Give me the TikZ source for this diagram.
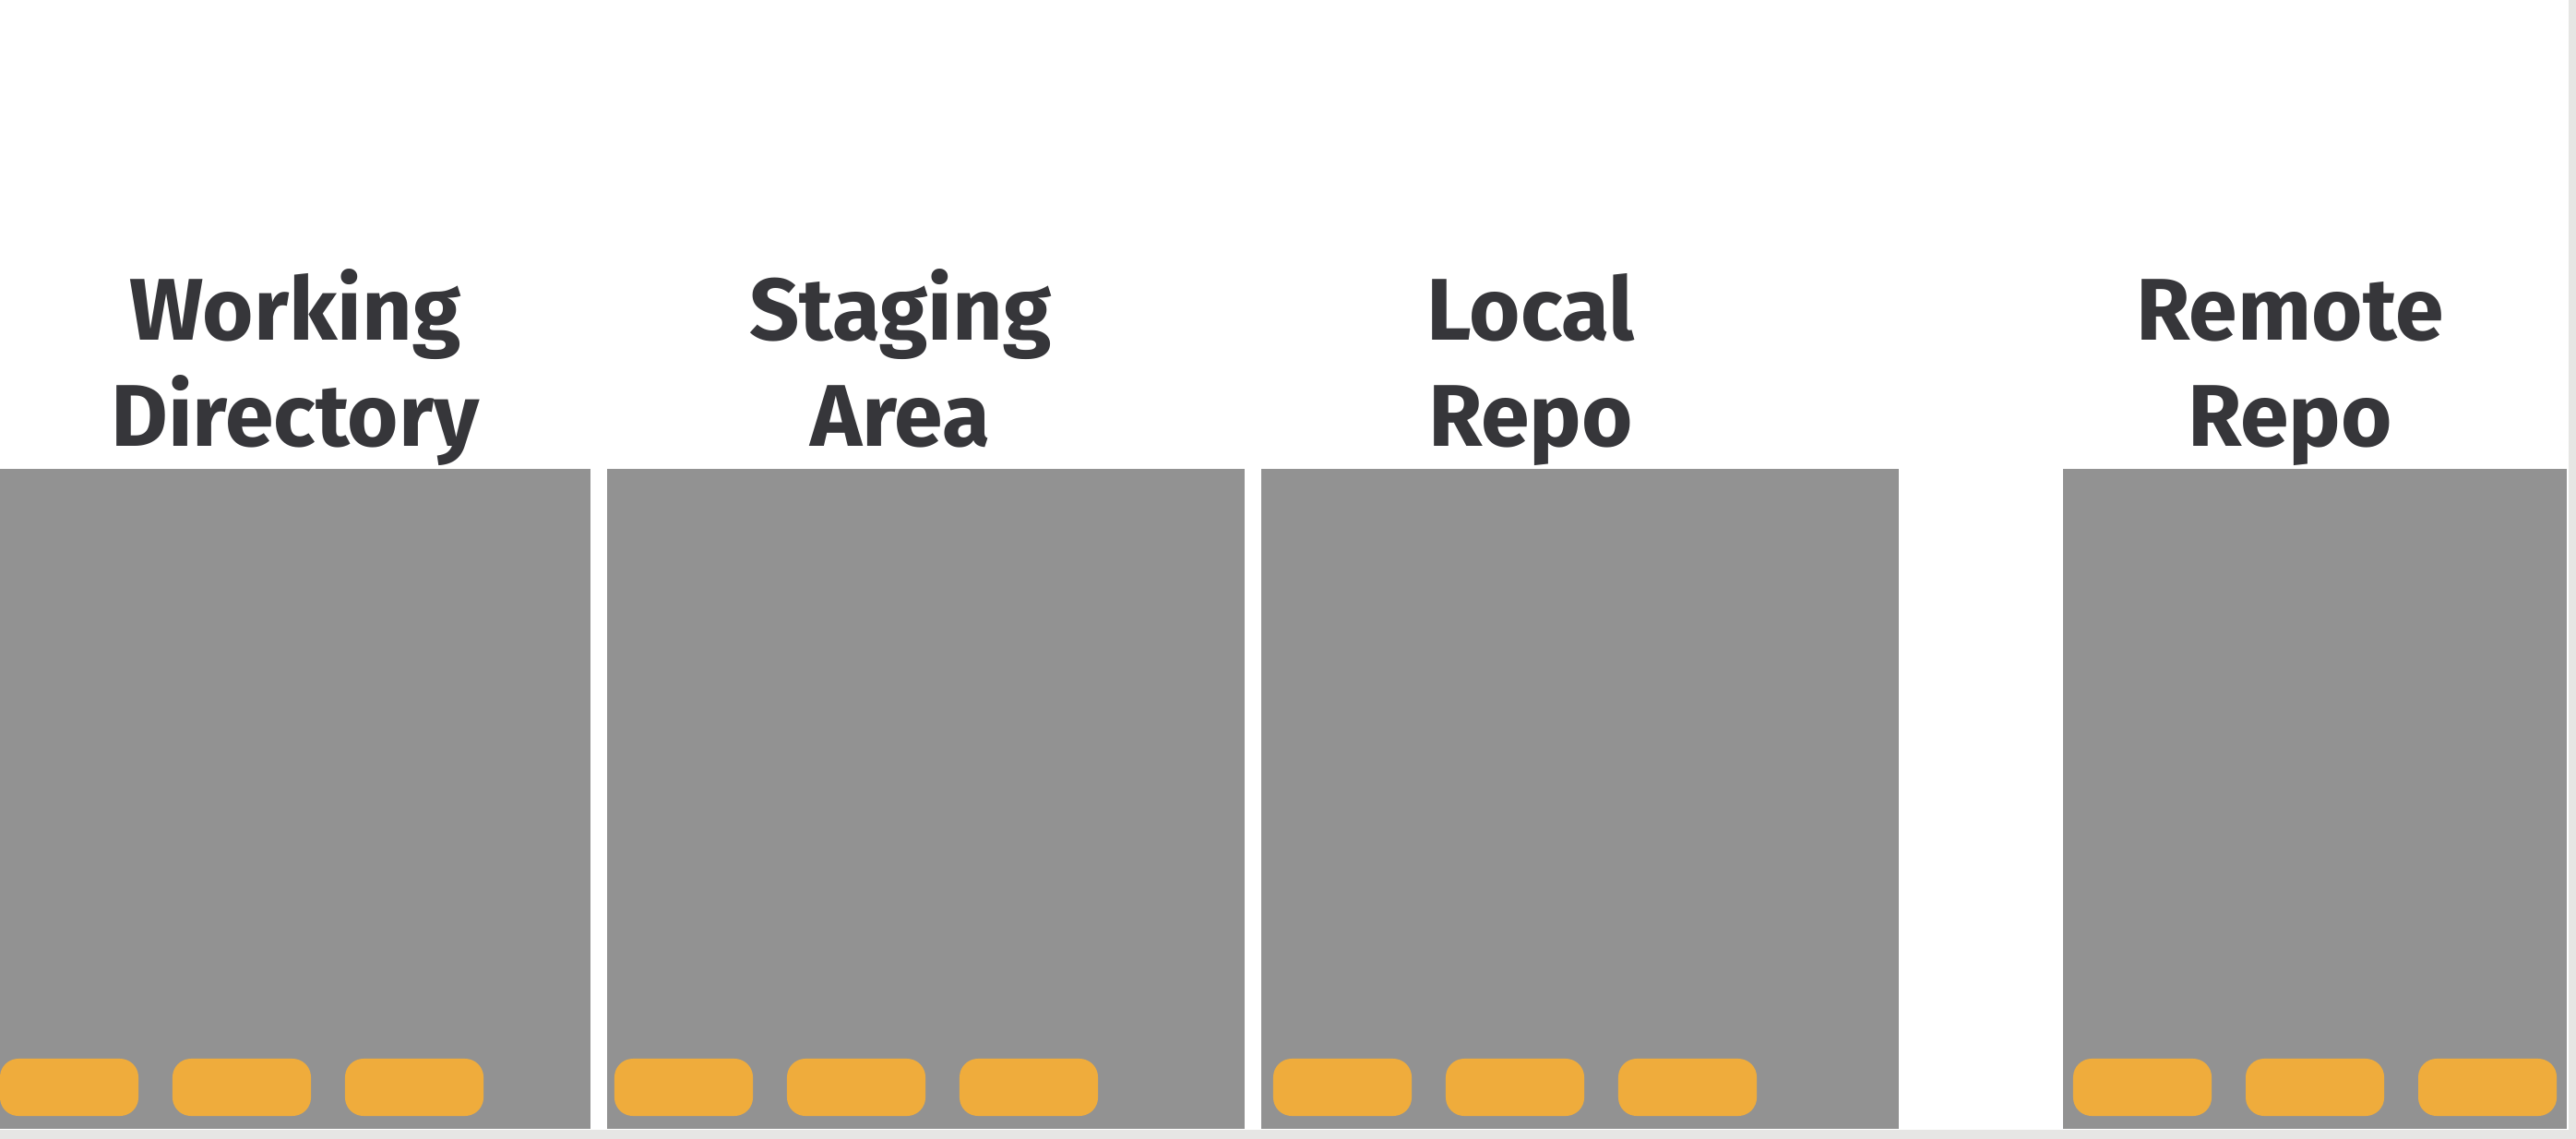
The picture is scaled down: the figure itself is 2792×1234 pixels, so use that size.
\documentclass[tikz,border=0pt]{standalone}
\usepackage{fontspec}
\usepackage{xcolor}
\usepackage{tikz}
\usetikzlibrary{positioning}
\newfontfamily\titlefont{Fira Sans}
\definecolor{panelgray}{HTML}{929292}
\definecolor{pillorange}{HTML}{EFAC3C}
\definecolor{titleink}{HTML}{36363A}
\definecolor{edgegray}{HTML}{E6E6E4}

\begin{document}
\begin{tikzpicture}[
    x=0.01cm, y=-0.01cm,
    panel/.style={rectangle, fill=panelgray, inner sep=0pt, outer sep=0pt, anchor=north west, minimum width=#1, minimum height=7.15cm},
    pill/.style={rectangle, rounded corners=0.2cm, fill=pillorange, inner sep=0pt, outer sep=0pt, minimum width=1.5cm, minimum height=0.62cm},
    title/.style={align=center, inner sep=0pt, text=titleink, font=\titlefont\bfseries\fontsize{27}{32.7}\selectfont}
  ]
  \useasboundingbox (0,0) rectangle (2792,1234);
  \fill[white] (0,0) rectangle (2792,1234);
  \fill[edgegray] (2784,0) rectangle (2792,1234);
  \fill[edgegray] (0,1224) rectangle (2792,1234);

  % Panels
  \node[panel=6.40cm] (wd) at (0,508) {};
  \node[panel=6.91cm] (sa) at (658,508) {};
  \node[panel=6.91cm] (lr) at (1367,508) {};
  \node[panel=5.46cm] (rr) at (2236,508) {};

  % Titles
  \node[title] (wd-title) at (320,403) {\strut Working\\Directory\strut};
  \node[title] (sa-title) at (976,403) {\strut Staging\\Area\strut};
  \node[title] (lr-title) at (1659,403) {\strut Local\\Repo\strut};
  \node[title] (rr-title) at (2482,403) {\strut Remote\\Repo\strut};

  % Pills
  \foreach \p/\x in {wd/0, sa/666, lr/1380, rr/2247}
    \foreach \i in {0,1,2}
      \node[pill] (\p-pill\i) at (\x+\i*187+75,1178) {};
\end{tikzpicture}
\end{document}
